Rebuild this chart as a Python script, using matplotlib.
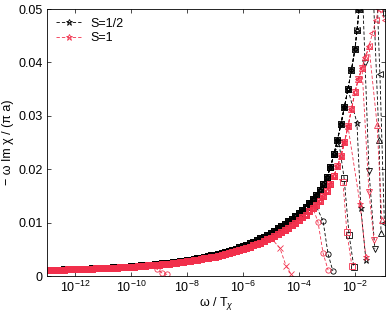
import numpy as np
import matplotlib
matplotlib.use("Agg")
import matplotlib.pyplot as plt
from matplotlib.ticker import FixedLocator, NullLocator

plt.rcParams['font.family'] = ['Liberation Sans', 'DejaVu Sans']
plt.rcParams['mathtext.fontset'] = 'custom'
plt.rcParams['mathtext.rm'] = 'Liberation Sans'
plt.rcParams['mathtext.it'] = 'Liberation Sans:italic'

# ---- envelope of S=1/2 (black): log10(omega/T) grid and values ----
half_logw = [-13.000, -12.875, -12.750, -12.625, -12.500, -12.375, -12.250, -12.125,
             -12.000, -11.875, -11.750, -11.625, -11.500, -11.375, -11.250, -11.125,
             -11.000, -10.875, -10.750, -10.625, -10.500, -10.375, -10.250, -10.125,
             -10.000, -9.875, -9.750, -9.625, -9.500, -9.375, -9.250, -9.125,
             -9.000, -8.875, -8.750, -8.625, -8.500, -8.375, -8.250, -8.125,
             -8.000, -7.875, -7.750, -7.625, -7.500, -7.375, -7.250, -7.125,
             -7.000, -6.875, -6.750, -6.625, -6.500, -6.375, -6.250, -6.125,
             -6.000, -5.875, -5.750, -5.625, -5.500, -5.375, -5.250, -5.125,
             -5.000, -4.875, -4.750, -4.625, -4.500, -4.375, -4.250, -4.125,
             -4.000, -3.875, -3.750, -3.625, -3.500, -3.375, -3.250, -3.125,
             -3.000, -2.875, -2.750, -2.625, -2.500, -2.375, -2.250, -2.125,
             -2.000, -1.925, -1.850]
half_val = [0.00112, 0.00114, 0.00116, 0.00118, 0.00120, 0.00122, 0.00124, 0.00126,
            0.00128, 0.00130, 0.00133, 0.00135, 0.00138, 0.00141, 0.00144, 0.00147,
            0.00150, 0.00153, 0.00157, 0.00160, 0.00164, 0.00168, 0.00173, 0.00177,
            0.00182, 0.00187, 0.00192, 0.00197, 0.00203, 0.00209, 0.00215, 0.00221,
            0.00228, 0.00235, 0.00243, 0.00251, 0.00260, 0.00269, 0.00278, 0.00288,
            0.00298, 0.00309, 0.00320, 0.00332, 0.00345, 0.00358, 0.00371, 0.00385,
            0.00400, 0.00416, 0.00433, 0.00451, 0.00470, 0.00490, 0.00512, 0.00535,
            0.00560, 0.00585, 0.00612, 0.00640, 0.00670, 0.00703, 0.00737, 0.00772,
            0.00810, 0.00849, 0.00890, 0.00934, 0.00980, 0.01027, 0.01075, 0.01126,
            0.01180, 0.01238, 0.01300, 0.01367, 0.01440, 0.01520, 0.01610, 0.01720,
            0.01850, 0.02040, 0.02280, 0.02550, 0.02850, 0.03170, 0.03500, 0.03860,
            0.04250, 0.04600, 0.05000]

# ---- envelope of S=1 (red) ----
one_logw = [-13.000, -12.875, -12.750, -12.625, -12.500, -12.375, -12.250, -12.125,
            -12.000, -11.875, -11.750, -11.625, -11.500, -11.375, -11.250, -11.125,
            -11.000, -10.875, -10.750, -10.625, -10.500, -10.375, -10.250, -10.125,
            -10.000, -9.875, -9.750, -9.625, -9.500, -9.375, -9.250, -9.125,
            -9.000, -8.875, -8.750, -8.625, -8.500, -8.375, -8.250, -8.125,
            -8.000, -7.875, -7.750, -7.625, -7.500, -7.375, -7.250, -7.125,
            -7.000, -6.875, -6.750, -6.625, -6.500, -6.375, -6.250, -6.125,
            -6.000, -5.875, -5.750, -5.625, -5.500, -5.375, -5.250, -5.125,
            -5.000, -4.875, -4.750, -4.625, -4.500, -4.375, -4.250, -4.125,
            -4.000, -3.875, -3.750, -3.625, -3.500, -3.375, -3.250, -3.125,
            -3.000, -2.875, -2.750, -2.625, -2.500, -2.375, -2.250, -2.125,
            -2.000, -1.875, -1.750, -1.625, -1.500, -1.375, -1.250, -1.150]
one_val = [0.00112, 0.00113, 0.00115, 0.00117, 0.00119, 0.00121, 0.00123, 0.00125,
           0.00127, 0.00129, 0.00131, 0.00133, 0.00136, 0.00138, 0.00141, 0.00143,
           0.00146, 0.00149, 0.00152, 0.00155, 0.00158, 0.00161, 0.00165, 0.00169,
           0.00173, 0.00177, 0.00182, 0.00187, 0.00192, 0.00197, 0.00203, 0.00208,
           0.00214, 0.00220, 0.00227, 0.00234, 0.00242, 0.00250, 0.00258, 0.00266,
           0.00275, 0.00285, 0.00295, 0.00305, 0.00316, 0.00328, 0.00340, 0.00352,
           0.00365, 0.00379, 0.00394, 0.00409, 0.00425, 0.00442, 0.00460, 0.00480,
           0.00500, 0.00523, 0.00548, 0.00574, 0.00600, 0.00627, 0.00655, 0.00684,
           0.00715, 0.00749, 0.00785, 0.00824, 0.00865, 0.00907, 0.00950, 0.00996,
           0.01045, 0.01096, 0.01150, 0.01208, 0.01270, 0.01337, 0.01410, 0.01495,
           0.01600, 0.01730, 0.01880, 0.02055, 0.02250, 0.02510, 0.02800, 0.03120,
           0.03450, 0.03690, 0.03900, 0.04100, 0.04300, 0.04550, 0.04800, 0.05000]

# ---- individual curves: marker, last envelope point (log w), tail points ----
half_markers = ['o', 's', '*', 'v', '^', '<', '>']
half_cut = [-3.50, -2.75, -2.25, -2.00, -1.85, -1.85, -1.85]
half_tail_logw = [[-3.14, -2.96, -2.79],
                  [-2.57, -2.39, -2.21, -2.04],
                  [-1.93, -1.79, -1.61],
                  [-1.75, -1.64, -1.50, -1.29],
                  [-1.40, -1.14, -1.07],
                  [-1.30, -1.11, -0.95],
                  [-1.20, -0.89]]
half_tail_val = [[0.0103, 0.0041, 0.00094],
                 [0.0249, 0.0184, 0.0077, 0.0017],
                 [0.0287, 0.0127, 0.0030],
                 [0.0560, 0.0399, 0.0197, 0.0051],
                 [0.0600, 0.0255, 0.0081],
                 [0.0650, 0.0378, 0.0100],
                 [0.0700, 0.0492]]

one_markers = ['o', 'x', 'o', 's', '*', 'v', '^', '<']
one_cut = [-9.50, -5.00, -3.50, -2.75, -2.25, -1.75, -1.50, -1.15]
one_tail_logw = [[-9.07, -8.89, -8.71],
                 [-4.68, -4.46, -4.29],
                 [-3.32, -3.14, -2.96],
                 [-2.43, -2.29, -2.11],
                 [-1.82, -1.61],
                 [-1.50, -1.32],
                 [-1.21, -1.04],
                 [-0.93]]
one_tail_val = [[0.0013, 0.00056, 0.0003],
                [0.0052, 0.0019, 0.0004],
                [0.0101, 0.0043, 0.0011],
                [0.0176, 0.0082, 0.0019],
                [0.0135, 0.0036],
                [0.0157, 0.0067],
                [0.0283, 0.0105],
                [0.0480]]

x_ticks = [1e-12, 1e-10, 1e-8, 1e-6, 1e-4, 1e-2]
y_ticks = [0, 0.01, 0.02, 0.03, 0.04, 0.05]
y_tick_labels = ['0', '0.01', '0.02', '0.03', '0.04', '0.05']

BLACK = 'black'
RED = '#f2304c'

fig = plt.figure(figsize=(3.9, 3.13), dpi=100)
ax = fig.add_axes([0.1205, 0.1182, 0.8665, 0.853])


def draw(env_lw, env_v, markers, cuts, tlw, tv, color, label_marker, label):
    env_lw = np.array(env_lw)
    env_v = np.array(env_v)
    for m, c, tl, tvv in zip(markers, cuts, tlw, tv):
        sel = env_lw <= c + 1e-9
        lw_ = np.concatenate([env_lw[sel], tl])
        v_ = np.concatenate([env_v[sel], tvv])
        lab = label if m == label_marker else None
        ms = 4.8 if m == '*' else 3.8
        ax.plot(10 ** lw_, v_, ls=(0, (4, 2.5)), lw=0.6, color=color,
                marker=m, ms=ms, mfc='none', mec=color, mew=0.6, label=lab,
                clip_on=True)


draw(half_logw, half_val, half_markers, half_cut, half_tail_logw, half_tail_val,
     BLACK, '*', 'S=1/2')
draw(one_logw, one_val, one_markers, one_cut, one_tail_logw, one_tail_val,
     RED, '*', 'S=1')

ax.set_xscale('log')
ax.set_xlim(1e-13, 10 ** -0.93)
ax.set_ylim(0, 0.05)
ax.xaxis.set_major_locator(FixedLocator(x_ticks))
ax.xaxis.set_minor_locator(NullLocator())
ax.set_yticks(y_ticks)
ax.set_yticklabels(y_tick_labels)
ax.tick_params(direction='in', length=3, width=0.5, top=True, right=True,
               labelsize=9, pad=3)
for s in ax.spines.values():
    s.set_linewidth(0.6)

ax.set_xlabel(r'ω / T$_{\chi}$', fontsize=9, labelpad=0)
ax.set_ylabel('− ω Im χ / (π a)', fontsize=9, labelpad=3)

handles, labels = ax.get_legend_handles_labels()
order = [labels.index('S=1/2'), labels.index('S=1')]
ax.legend([handles[i] for i in order], [labels[i] for i in order],
          loc='upper left', frameon=False, fontsize=9, numpoints=1,
          handlelength=2.2, handletextpad=0.6, borderaxespad=0.3,
          labelspacing=0.2)

fig.savefig('out.png', dpi=100)
